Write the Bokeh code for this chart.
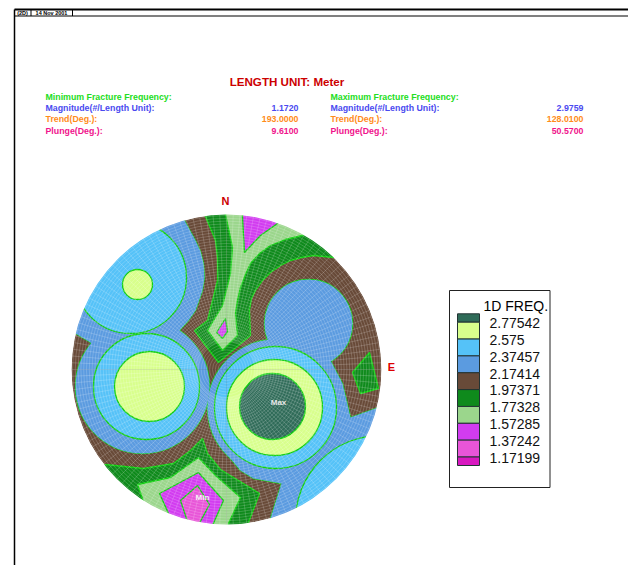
import numpy as np
from bokeh.plotting import figure
from bokeh.models import Range1d
from bokeh.core.properties import value
from bokeh.embed import file_html
from bokeh.resources import INLINE

# Legend
levels = ["2.77542", "2.575", "2.37457", "2.17414", "1.97371", "1.77328", "1.57285", "1.37242", "1.17199"]
band_colors = ["#2f6b58", "#d8ff8c", "#55c2f8", "#5b9be0", "#684a38", "#0f8a1c", "#9bd68c", "#d23cf0", "#e855d8", "#d818c0"]

# Stereonet contours, net units (net radius = 155)
NET_R = 155
green_n = [(-21,153),(-11,129),(-9,112),(-9,89),(-19,49),(-32,39),(-21,24),(-8,7),(6,19),(24,34),(23,59),(25,71),(29,79),(36,89),(44,97),(54,104),(64,109),(75,112),(87,114),(107,112),(124,129),(14,174),(-21,174)]
green_s = [(-136,-101),(-121,-95),(-83,-99),(-53,-94),(-36,-81),(-24,-69),(-19,-84),(-6,-100),(33,-124),(22,-153),(22,-176),(-126,-176)]
green_e = [(143,17),(152,-19),(134,-24),(126,-3)]
light_n = [(-1,169),(-1,155),(6,122),(4,96),(-4,64),(-19,39),(-4,19),(11,34),(9,56),(11,69),(14,82),(19,95),(24,106),(33,116),(44,124),(59,130),(76,134),(94,144),(44,174)]
light_s = [(-89,-115),(-56,-108),(-28,-88),(-11,-106),(14,-128),(2,-154),(2,-176),(-83,-176),(-83,-132)]
purple_n = [(16,164),(16,153),(18,117),(34,134),(51,146),(64,164)]
purple_c = [(-1,51),(-10,37),(-4,31),(1,38)]
purple_s = [(-28,-103),(-3,-131),(-14,-156),(-14,-171),(-61,-171),(-58,-144),(-67,-124)]
pink_s = [(-29,-116),(-17,-135),(-31,-161),(-36,-161),(-46,-131)]
blue_nw = [(-46,169),(-42,149),(-31,129),(-26,118),(-23,106),(-22,92),(-24,79),(-31,59),(-38,49),(-47,39),(-56,19),(-126,9),(-136,27),(-151,36),(-176,49),(-166,169)]
blue_se = [(104,9),(74,-1),(-19,-39),(-14,-59),(-7,-76),(4,-89),(14,-101),(27,-109),(55,-114),(44,-149),(44,-176),(174,-176),(174,-31),(149,-39),(124,-48),(116,-14)]
# circles: (east, north, radius)
blue_circles = [(-84,-17,67),(49,-38,68),(82,46,44)]
sky_circles = [(-96,92,56),(-80,-17,53),(49,-38,61),(154,-151,85)]
yellow_circles = [(-89,85,15),(-77,-17,35),(48,-38,48)]
teal_circles = [(46,-37,33)]

LINE = "#12d012"
FONT = value("Liberation Sans")

p = figure(width=628, height=565, output_backend="svg", toolbar_location=None,
           x_range=Range1d(-226, 402), y_range=Range1d(-196, 369),
           x_axis_location=None, y_axis_location=None, min_border=0)
p.grid.visible = False
p.outline_line_color = None
p.background_fill_color = "white"
p.border_fill_color = "white"

def polys(shapes, color, line=True):
    xs = [[a for a, _ in s] for s in shapes]
    ys = [[b for _, b in s] for s in shapes]
    p.patches(xs, ys, fill_color=color, line_color=LINE if line else color,
              line_width=1.3 if line else 0, line_alpha=1 if line else 0)

def circles(cs, color, line=True):
    p.circle([c[0] for c in cs], [c[1] for c in cs], radius=[c[2] for c in cs],
             fill_color=color, line_color=LINE if line else color,
             line_width=1.3 if line else 0, line_alpha=1 if line else 0)

# base disc
p.circle([0], [0], radius=[NET_R], fill_color=band_colors[4], line_color=None)
polys([green_n, green_s, green_e], band_colors[5])
polys([light_n, light_s], band_colors[6])
polys([purple_n, purple_c, purple_s], band_colors[7])
polys([pink_s], band_colors[8])
# mid-blue union: outlines first, then fills that hide the inner parts of the outlines
polys([blue_nw, blue_se], band_colors[3])
circles(blue_circles, band_colors[3])
polys([blue_nw, blue_se], band_colors[3], line=False)
circles(blue_circles, band_colors[3], line=False)
circles(sky_circles, band_colors[2])
circles(yellow_circles, band_colors[1])
circles(teal_circles, band_colors[0])

# net mesh
mesh_r = np.arange(2.8, NET_R, 2.8)
p.circle(np.zeros_like(mesh_r), np.zeros_like(mesh_r), radius=mesh_r, fill_color=None,
         line_color="white", line_alpha=0.26, line_width=0.7)
ang = np.deg2rad(np.arange(0, 360, 2.5))
p.segment(28*np.cos(ang), 28*np.sin(ang), NET_R*np.cos(ang), NET_R*np.sin(ang),
          line_color="white", line_alpha=0.26, line_width=0.7)
# axes of the net
p.segment([-NET_R, 0], [0, -NET_R], [NET_R, 0], [0, NET_R], line_color="#444444", line_alpha=0.2, line_width=0.6)

# mask outside of the net
p.annulus([0], [0], inner_radius=NET_R, outer_radius=430, fill_color="white", line_color=None)

# page frame
p.segment([-212, -212, -212, -195.5, -154], [360, 353.5, 360, 360, 360],
          [402, 402, -212, -195.5, -154], [360, 353.5, -196, 353.5, 353.5],
          line_color="black", line_width=[2, 1, 1.5, 1, 1])

def txt(x, y, s, color="black", size="8.8px", bold=True, align="left"):
    p.text([x], [y], text=[s], text_color=color, text_font=FONT, text_font_size=value(size),
           text_font_style="bold" if bold else "normal", text_align=align, text_baseline="middle")

txt(-204, 356.5, "(2D)", size="5.5px", align="center")
txt(-175, 356.5, "14 Nov 2001", size="5.5px", align="center")
txt(60.5, 288, "LENGTH UNIT: Meter", color="#cc0000", size="11.6px", align="center")
GREEN, BLUE, ORANGE, PINK = "#22dd22", "#4a4af0", "#ff8c1a", "#f0148c"
rows_y = [273, 262, 251, 239]
for cx, vx, head, vals in [(-181, 72, "Minimum Fracture Frequency:", ["1.1720", "193.0000", "9.6100"]),
                           (104, 357, "Maximum Fracture Frequency:", ["2.9759", "128.0100", "50.5700"])]:
    txt(cx, rows_y[0], head, GREEN)
    for y, lab, v, c in zip(rows_y[1:], ["Magnitude(#/Length Unit):", "Trend(Deg.):", "Plunge(Deg.):"], vals, [BLUE, ORANGE, PINK]):
        txt(cx, y, lab, c)
        txt(vx, y, v, c, align="right")

txt(-1, 169, "N", color="#cc0000", size="11px", align="center")
txt(165, 3, "E", color="#dd0000", size="11px", align="center")
txt(52, -33, "Max", color="#e8e8e8", size="8px", align="center")
txt(-24, -128, "Min", color="#f4f4f4", size="8px", align="center")

# legend
p.quad(left=[223], right=[323.5], top=[79], bottom=[-118], fill_color="white", line_color="#222222", line_width=1)
step = 16.85
edges = [55.7, 47.3] + [47.3 - step*(i+1) for i in range(8)] + [-96]
p.quad(left=[231]*10, right=[253]*10, top=edges[:-1], bottom=edges[1:],
       fill_color=band_colors, line_color="#223333", line_width=1)
txt(257, 64, "1D FREQ.", size="14px", bold=False)
for i, lv in enumerate(levels):
    txt(263, 46.3 - 16.8*i, lv, color="#111111", size="14px", bold=False)

open("out.html", "w").write(file_html(p, INLINE))
